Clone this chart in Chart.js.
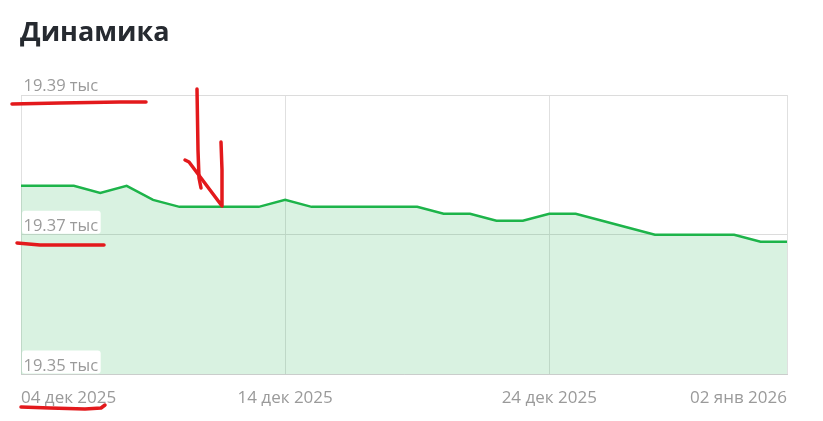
<!DOCTYPE html>
<html>
<head>
<meta charset="utf-8">
<script src="https://cdn.jsdelivr.net/npm/chart.js@4.4.1/dist/chart.umd.min.js"></script>
<style>
  html, body { margin: 0; padding: 0; background: #fff; }
  #wrap { position: relative; width: 823px; height: 421px; }
  h2 { position: absolute; left: 20px; top: 12px; margin: 0; font-family: 'Open Sans', sans-serif; font-weight: 700; font-size: 27px; color: #262a30; }
  canvas { position: absolute; left: 0; top: 0; }
</style>
</head>
<body>
<div id="wrap">
  <canvas id="chart" width="823" height="421"></canvas>
  <h2>Динамика</h2>
</div>
<script>
// dates, one per day
const dates = [
  '04 дек 2025', '05 дек 2025', '06 дек 2025', '07 дек 2025', '08 дек 2025',
  '09 дек 2025', '10 дек 2025', '11 дек 2025', '12 дек 2025', '13 дек 2025',
  '14 дек 2025', '15 дек 2025', '16 дек 2025', '17 дек 2025', '18 дек 2025',
  '19 дек 2025', '20 дек 2025', '21 дек 2025', '22 дек 2025', '23 дек 2025',
  '24 дек 2025', '25 дек 2025', '26 дек 2025', '27 дек 2025', '28 дек 2025',
  '29 дек 2025', '30 дек 2025', '31 дек 2025', '01 янв 2026', '02 янв 2026'
];

const values = [
  19377, 19377, 19377, 19376, 19377, 19375, 19374, 19374, 19374, 19374,
  19375, 19374, 19374, 19374, 19374, 19374, 19373, 19373, 19372, 19372,
  19373, 19373, 19372, 19371, 19370, 19370, 19370, 19370, 19369, 19369
];

// labels that are shown on the x axis
const xTickLabels = ['04 дек 2025', '14 дек 2025', '24 дек 2025', '02 янв 2026'];
const yMin = 19350;
const yMax = 19390;
const yStep = 20;

const yFmt = v => (v / 1000).toFixed(2) + ' тыс';

// y labels sit inside the plot, on a white tag above each grid line
const yTags = {
  id: 'yTags',
  afterDatasetsDraw(chart) {
    const c = chart.ctx;
    const sc = chart.scales.y;
    c.save();
    c.font = '16.5px "Open Sans"';
    c.textBaseline = 'alphabetic';
    c.textAlign = 'left';
    sc.ticks.forEach(t => {
      const py = sc.getPixelForValue(t.value);
      const txt = yFmt(t.value);
      const w = c.measureText(txt).width;
      const x0 = chart.chartArea.left + 1;
      c.fillStyle = '#ffffff';
      c.beginPath();
      c.roundRect(x0, py - 24, w + 4, 23, 3);
      c.fill();
      c.fillStyle = '#9a9a9a';
      c.fillText(txt, x0 + 1.5, py - 4);
    });
    c.restore();
  }
};

// hand drawn red marks over the screenshot
const redMarks = {
  id: 'redMarks',
  afterDraw(chart) {
    const c = chart.ctx;
    c.save();
    c.strokeStyle = '#e3191c';
    c.lineWidth = 3.5;
    c.lineCap = 'round';
    c.lineJoin = 'round';
    const path = pts => {
      c.beginPath();
      c.moveTo(pts[0][0], pts[0][1]);
      for (let i = 1; i < pts.length; i++) c.lineTo(pts[i][0], pts[i][1]);
      c.stroke();
    };
    path([[12, 104], [60, 103], [120, 102], [146, 102]]);
    path([[17, 243], [40, 245], [104, 245]]);
    path([[21, 407], [50, 408], [85, 409], [101, 408], [105, 405]]);
    path([[197, 89], [198, 150], [199, 178], [201, 188]]);
    path([[185, 160], [189, 162], [204, 182], [222, 206], [222, 170], [221, 142]]);
    c.restore();
  }
};

new Chart(document.getElementById('chart'), {
  type: 'line',
  data: {
    labels: dates,
    datasets: [{
      data: values,
      borderColor: '#1db44a',
      borderWidth: 2.5,
      backgroundColor: 'rgba(30,180,75,0.17)',
      fill: 'start',
      pointRadius: 0,
      tension: 0
    }]
  },
  options: {
    responsive: false,
    animation: false,
    layout: { padding: { left: 21, right: 36, top: 95, bottom: 0 } },
    plugins: { legend: { display: false }, tooltip: { enabled: false } },
    scales: {
      x: {
        grid: {
          drawTicks: false,
          color: ctx => (ctx.tick && xTickLabels.includes(dates[ctx.index])) ? '#e0e0e0' : 'rgba(0,0,0,0)'
        },
        border: { display: true, color: '#cfcfcf' },
        ticks: {
          autoSkip: false,
          maxRotation: 0,
          align: 'inner',
          padding: 13,
          color: '#9a9a9a',
          font: { family: 'Open Sans', size: 17 },
          callback: function (v, i) {
            const lbl = dates[i];
            return xTickLabels.includes(lbl) ? lbl : '';
          }
        }
      },
      y: {
        min: yMin,
        max: yMax,
        afterFit: s => { s.width = 0; },
        grid: { drawTicks: false, color: '#dcdcdc' },
        border: { display: false },
        ticks: { stepSize: yStep, display: false }
      }
    }
  },
  plugins: [yTags, redMarks]
});
</script>
</body>
</html>
